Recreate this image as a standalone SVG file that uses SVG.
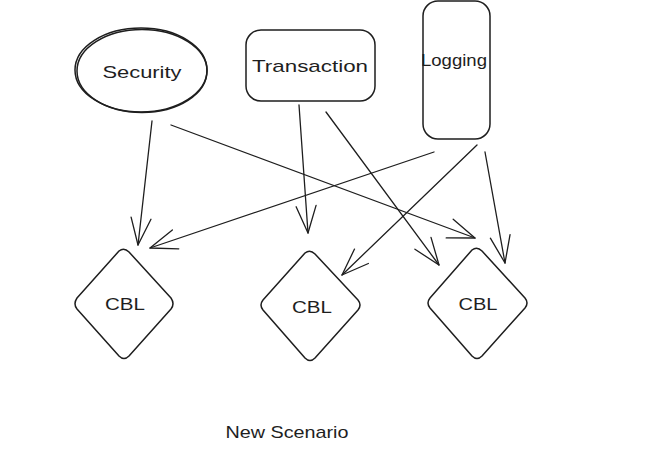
<svg xmlns="http://www.w3.org/2000/svg" width="647" height="456" viewBox="0 0 647 456">
<defs>
<style>
.shape{fill:none;stroke:#1e1e1e;stroke-width:1.5;stroke-linejoin:round}
.edge{fill:none;stroke:#1e1e1e;stroke-width:1.3;stroke-linecap:round}
.lbl{font-family:"Liberation Sans",Arial,sans-serif;font-size:17px;fill:#1e1e1e;text-anchor:middle;dominant-baseline:central}
</style>
<marker id="ah" markerUnits="userSpaceOnUse" markerWidth="40" markerHeight="30" viewBox="-30 -15 32 30" refX="0" refY="0" orient="auto">
<path d="M-27,-10 L0,0 L-27,10" fill="none" stroke="#1e1e1e" stroke-width="1.3" stroke-linecap="round" stroke-linejoin="round"/>
</marker>
</defs>
<rect width="647" height="456" fill="#ffffff"/>
<g id="security">
<ellipse class="shape" cx="141" cy="70" rx="66" ry="42"/>
<ellipse class="shape" cx="142" cy="71" rx="65" ry="41.5" stroke-width="0.8"/>
<text class="lbl" x="142" y="72" textLength="79" lengthAdjust="spacingAndGlyphs">Security</text>
</g>
<g id="transaction">
<rect class="shape" x="246" y="30" width="129" height="71" rx="15"/>
<text class="lbl" x="310" y="66" textLength="116" lengthAdjust="spacingAndGlyphs">Transaction</text>
</g>
<g id="logging">
<rect class="shape" x="423" y="1" width="67" height="138" rx="15"/>
<text class="lbl" x="454" y="60" textLength="66" lengthAdjust="spacingAndGlyphs">Logging</text>
</g>
<g id="cbl1">
<path class="shape" d="M119,251 Q124,247 129,252 L171,298 Q175,304 171,309 L129,356 Q124,361 119,356 L77,309 Q73,304 77,298 Z"/>
<text class="lbl" x="125" y="304" textLength="40" lengthAdjust="spacingAndGlyphs">CBL</text>
</g>
<g id="cbl2">
<path class="shape" d="M305,253 Q310,249 315,254 L358,300 Q362,305 358,310 L315,358 Q310,363 305,358 L263,310 Q259,305 263,300 Z"/>
<text class="lbl" x="312" y="307" textLength="40" lengthAdjust="spacingAndGlyphs">CBL</text>
</g>
<g id="cbl3">
<path class="shape" d="M472,250 Q477,246 482,251 L525,298 Q529,303 525,308 L482,356 Q477,361 472,356 L430,308 Q426,303 430,298 Z"/>
<text class="lbl" x="478" y="304" textLength="39" lengthAdjust="spacingAndGlyphs">CBL</text>
</g>
<g id="connectors">
<path class="edge" d="M152,121 L138,245" marker-end="url(#ah)"/>
<path class="edge" d="M171,125 L475,238" marker-end="url(#ah)"/>
<path class="edge" d="M299,105 L308,233" marker-end="url(#ah)"/>
<path class="edge" d="M326,112 L439,265" marker-end="url(#ah)"/>
<path class="edge" d="M434,152 L150,248" marker-end="url(#ah)"/>
<path class="edge" d="M477,145 L342,275" marker-end="url(#ah)"/>
<path class="edge" d="M485,152 L505,263" marker-end="url(#ah)"/>
</g>
<g id="caption">
<text class="lbl" x="287" y="432" font-size="16" textLength="123" lengthAdjust="spacingAndGlyphs">New Scenario</text>
</g>
</svg>
